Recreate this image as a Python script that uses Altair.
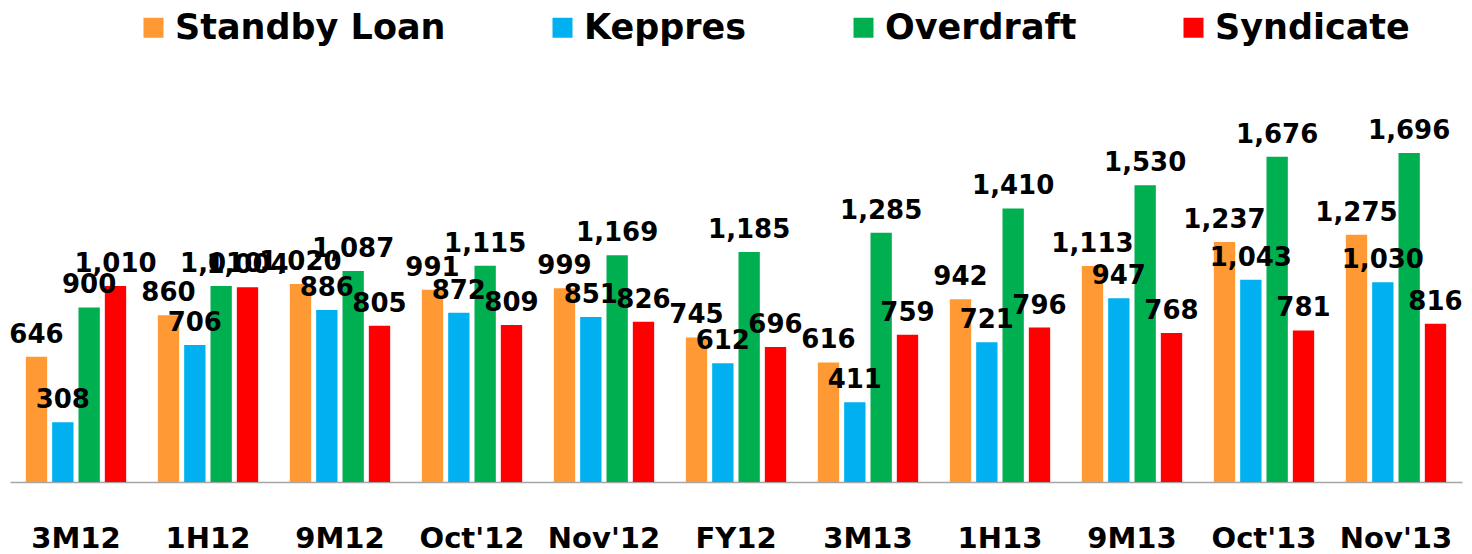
import altair as alt
import pandas as pd

categories = ["3M12", "1H12", "9M12", "Oct'12", "Nov'12", "FY12", "3M13", "1H13", "9M13", "Oct'13", "Nov'13"]
series = ["Standby Loan", "Keppres", "Overdraft", "Syndicate"]
standby = [646, 860, 1020, 991, 999, 745, 616, 942, 1113, 1237, 1275]
keppres = [308, 706, 886, 872, 851, 612, 411, 721, 947, 1043, 1030]
overdraft = [900, 1010, 1087, 1115, 1169, 1185, 1285, 1410, 1530, 1676, 1696]
syndicate = [1010, 1004, 805, 809, 826, 696, 759, 796, 768, 781, 816]
colors = ["#FF9933", "#00B0F0", "#00B050", "#FF0000"]

rows = []
for s, vals in zip(series, [standby, keppres, overdraft, syndicate]):
    for c, v in zip(categories, vals):
        rows.append({"cat": c, "series": s, "value": v, "label": f"{v:,}"})
df = pd.DataFrame(rows)

FONT = "DejaVu Sans"

base = alt.Chart(df).encode(
    x=alt.X("cat:N", sort=categories, title=None,
            scale=alt.Scale(paddingInner=0.2, paddingOuter=0.1),
            axis=alt.Axis(labelAngle=0, ticks=False, labelPadding=42, labelFont=FONT,
                          labelFontSize=29, labelFontWeight="bold", labelColor="black",
                          domainColor="#A6A6A6", domainWidth=1.5, grid=False)),
    xOffset=alt.XOffset("series:N", sort=series,
                        scale=alt.Scale(paddingInner=0.19, paddingOuter=0.1)),
    y=alt.Y("value:Q", scale=alt.Scale(domain=[0, 2000]), axis=None),
)

bars = base.mark_bar().encode(
    color=alt.Color("series:N", sort=series,
                    scale=alt.Scale(domain=series, range=colors),
                    legend=alt.Legend(title=None, orient="none", direction="horizontal",
                                      legendX=126, legendY=-84, padding=0,
                                      symbolType="square", symbolSize=400, symbolStrokeWidth=0,
                                      labelFont=FONT, labelFontSize=35, labelFontWeight="bold",
                                      labelColor="black", labelLimit=500, labelOffset=4,
                                      columnPadding=99, columns=4))
)

labels = base.mark_text(baseline="bottom", dy=-9, font=FONT, fontSize=26,
                        fontWeight="bold", color="black").encode(text="label:N")

chart = (bars + labels).properties(
    width=1452, height=388,
    background="white",
    autosize=alt.AutoSizeParams(type="none"),
    padding={"left": 2, "top": 86, "right": 2, "bottom": 72},
).configure_view(stroke=None, strokeWidth=0)

chart.save("out.html", embed_options={"renderer": "svg", "actions": False})
